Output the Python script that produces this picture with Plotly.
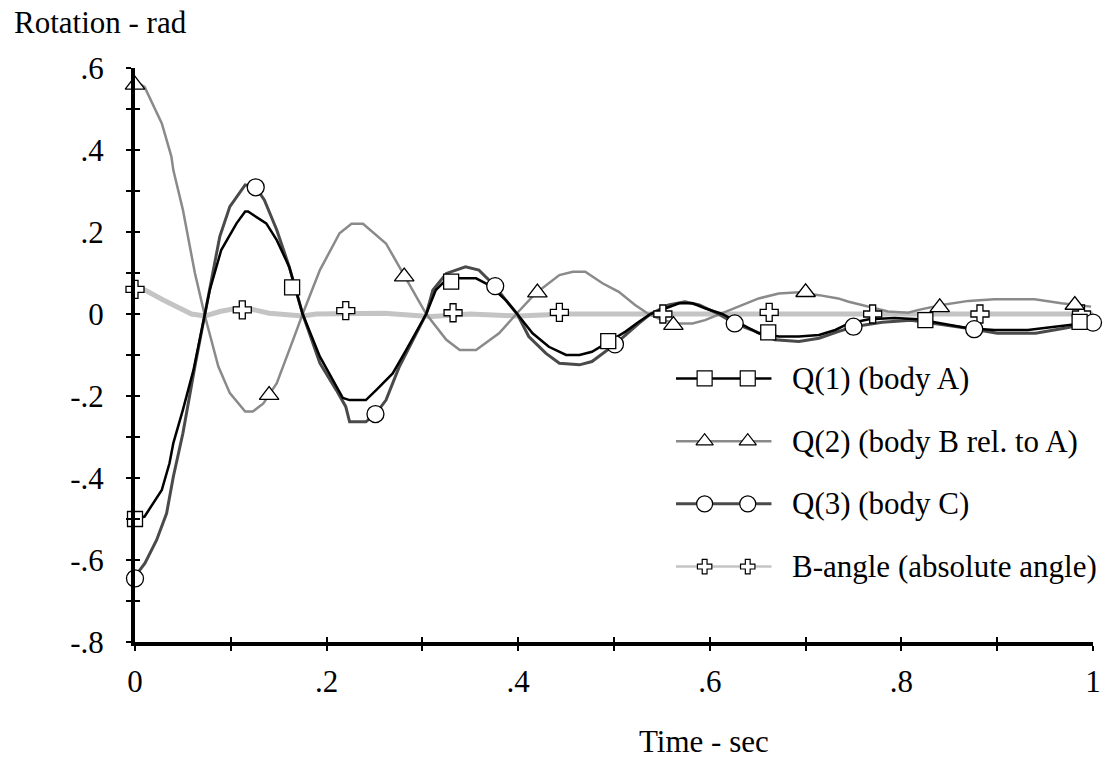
import plotly.graph_objects as go

# ---------------- data ----------------
T_Q1 = [0, 0.010, 0.028, 0.036, 0.040, 0.050, 0.061, 0.073, 0.078, 0.090, 0.106, 0.115, 0.118,
        0.137, 0.148, 0.161, 0.175, 0.193, 0.207, 0.217, 0.224, 0.238, 0.241, 0.252, 0.269,
        0.283, 0.293, 0.304, 0.314, 0.328, 0.339, 0.356, 0.370, 0.387, 0.399, 0.415, 0.432,
        0.450, 0.464, 0.477, 0.495, 0.512, 0.526, 0.538, 0.554, 0.568, 0.582, 0.595, 0.613,
        0.634, 0.651, 0.672, 0.693, 0.714, 0.731, 0.745, 0.766, 0.793, 0.818, 0.842, 0.870,
        0.897, 0.932, 0.960, 0.988, 1.0]
V_Q1 = [-0.50, -0.494, -0.429, -0.364, -0.315, -0.234, -0.137, 0.0, 0.058, 0.156, 0.221, 0.25, 0.25,
        0.221, 0.18, 0.115, 0.0, -0.104, -0.161, -0.205, -0.21, -0.21, -0.21, -0.185, -0.145,
        -0.088, -0.047, 0.0, 0.0585, 0.091, 0.087, 0.087, 0.07, 0.034, 0.0, -0.047, -0.08,
        -0.10, -0.10, -0.092, -0.067, -0.043, -0.019, 0.0, 0.014, 0.026, 0.026, 0.014, 0.0,
        -0.027, -0.047, -0.055, -0.055, -0.051, -0.039, -0.023, -0.013, -0.01, -0.013, -0.023, -0.035,
        -0.039, -0.039, -0.031, -0.023, -0.02]

T_Q2 = [0, 0.010, 0.028, 0.038, 0.040, 0.050, 0.0625, 0.073, 0.087, 0.099, 0.115, 0.123, 0.134,
        0.148, 0.165, 0.175, 0.193, 0.2135, 0.226, 0.238, 0.262, 0.280, 0.304, 0.325, 0.339,
        0.356, 0.380, 0.398, 0.418, 0.443, 0.457, 0.470, 0.488, 0.505, 0.522, 0.536, 0.550,
        0.568, 0.582, 0.595, 0.613, 0.630, 0.651, 0.672, 0.693, 0.714, 0.734, 0.745, 0.766,
        0.786, 0.807, 0.818, 0.842, 0.870, 0.897, 0.939, 0.967, 0.998]
V_Q2 = [0.568, 0.554, 0.465, 0.384, 0.351, 0.254, 0.10, -0.005, -0.128, -0.193, -0.238, -0.238, -0.218,
        -0.169, -0.063, 0.0, 0.107, 0.197, 0.22, 0.22, 0.172, 0.099, 0.0, -0.063, -0.088,
        -0.088, -0.047, 0.0, 0.05, 0.095, 0.103, 0.103, 0.075, 0.054, 0.022, 0.0, -0.015,
        -0.023, -0.023, -0.015, 0.002, 0.018, 0.038, 0.05, 0.053, 0.046, 0.038, 0.03, 0.018,
        0.006, 0.003, 0.01, 0.022, 0.032, 0.036, 0.036, 0.026, 0.018]

T_Q3 = [0, 0.0104, 0.0226, 0.033, 0.040, 0.050, 0.0625, 0.073, 0.0833, 0.0885, 0.099, 0.115, 0.126,
        0.135, 0.148, 0.161, 0.175, 0.193, 0.210, 0.220, 0.224, 0.241, 0.251, 0.262, 0.276,
        0.290, 0.304, 0.311, 0.325, 0.345, 0.359, 0.376, 0.387, 0.399, 0.411, 0.429, 0.443,
        0.464, 0.477, 0.501, 0.512, 0.526, 0.538, 0.557, 0.574, 0.589, 0.609, 0.626, 0.644,
        0.668, 0.693, 0.714, 0.734, 0.750, 0.780, 0.810, 0.840, 0.876, 0.900, 0.940, 0.970, 1.0]
V_Q3 = [-0.64, -0.608, -0.551, -0.486, -0.397, -0.291, -0.128, 0.0, 0.124, 0.189, 0.262, 0.315, 0.309,
        0.278, 0.205, 0.115, 0.0, -0.12, -0.185, -0.226, -0.263, -0.263, -0.244, -0.21, -0.128,
        -0.063, 0.0, 0.0585, 0.099, 0.115, 0.107, 0.068, 0.034, 0.0, -0.055, -0.096, -0.12,
        -0.124, -0.116, -0.074, -0.051, -0.023, 0.0, 0.022, 0.03, 0.022, 0.0, -0.023, -0.039,
        -0.063, -0.067, -0.059, -0.043, -0.031, -0.02, -0.015, -0.025, -0.037, -0.047, -0.047, -0.035, -0.021]

T_B = [0, 0.0104, 0.0295, 0.047, 0.059, 0.073, 0.0885, 0.106, 0.123, 0.14, 0.175, 0.189, 0.22,
       0.26, 0.30, 0.31, 0.35, 0.40, 0.45, 0.55, 0.60, 0.70, 0.80, 0.90, 1.0]
V_B = [0.065, 0.0585, 0.034, 0.014, 0.0, -0.005, 0.006, 0.014, 0.011, 0.002, -0.005, 0.0, 0.002,
       0.002, -0.005, -0.006, 0.0, -0.005, 0.0, -0.002, 0.0, 0.0, 0.0, 0.0, 0.0]

# marker points
TM_Q1 = [0, 0.164, 0.330, 0.494, 0.661, 0.825, 0.986]
VM_Q1 = [-0.50, 0.065, 0.079, -0.066, -0.045, -0.015, -0.019]
TM_Q2 = [0, 0.140, 0.281, 0.420, 0.562, 0.700, 0.840, 0.981]
VM_Q2 = [0.559, -0.198, 0.091, 0.052, -0.027, 0.053, 0.016, 0.022]
TM_Q3 = [0, 0.126, 0.251, 0.376, 0.501, 0.626, 0.750, 0.876, 1.0]
VM_Q3 = [-0.645, 0.309, -0.244, 0.068, -0.074, -0.023, -0.031, -0.037, -0.021]
TM_B = [0, 0.112, 0.220, 0.332, 0.443, 0.551, 0.662, 0.770, 0.882, 0.988]
VM_B = [0.06, 0.01, 0.008, 0.003, 0.004, 0.0, 0.004, 0.0, 0.0, 0.0]

SERIES_NAMES = ["Q(1) (body A)", "Q(2) (body B rel. to A)", "Q(3) (body C)", "B-angle (absolute angle)"]

X_TICKS = [0, 0.1, 0.2, 0.3, 0.4, 0.5, 0.6, 0.7, 0.8, 0.9, 1.0]
X_TICKTEXT = ["0", "", ".2", "", ".4", "", ".6", "", ".8", "", "1"]
Y_TICKS = [0.6, 0.5, 0.4, 0.3, 0.2, 0.1, 0, -0.1, -0.2, -0.3, -0.4, -0.5, -0.6, -0.7, -0.8]
Y_TICKTEXT = [".6", "", ".4", "", ".2", "", "0", "", "-.2", "", "-.4", "", "-.6", "", "-.8"]

X_TITLE = "Time - sec"
Y_TITLE = "Rotation - rad"

# ---------------- styling ----------------
FONT = "Liberation Serif, Times New Roman, serif"
FS = 31
COL = ["#000000", "#8a8a8a", "#4a4a4a", "#c4c4c4"]
LW = [2.5, 2.5, 3, 5]
LEG_LW = [2.5, 2.5, 3, 2.5]
SYM = ["square", "triangle-up", "circle", "cross"]
MSIZE = [15, 17, 17, 15]
LEG_MSIZE = [15, 15, 16, 12]

lines = [(T_B, V_B, 3), (T_Q2, V_Q2, 1), (T_Q3, V_Q3, 2), (T_Q1, V_Q1, 0)]
marks = [(TM_B, VM_B, 3), (TM_Q2, VM_Q2, 1), (TM_Q3, VM_Q3, 2), (TM_Q1, VM_Q1, 0)]

fig = go.Figure()
for t, v, i in lines:
    fig.add_trace(go.Scatter(x=t, y=v, mode="lines", line=dict(color=COL[i], width=LW[i]),
                             showlegend=False, hoverinfo="skip"))
for t, v, i in marks:
    fig.add_trace(go.Scatter(x=t, y=v, mode="markers", cliponaxis=False,
                             marker=dict(symbol=SYM[i], size=MSIZE[i], color="white",
                                         line=dict(color="black", width=1.3)),
                             showlegend=False, name=SERIES_NAMES[i]))

# custom legend drawn on its own small axes
LEG_X = [0, 1]
LEG_MX = [0.3, 0.75]
for k in range(4):
    yrow = 3.5 - k
    fig.add_trace(go.Scatter(x=LEG_X, y=[yrow, yrow], mode="lines", xaxis="x2", yaxis="y2",
                             line=dict(color=COL[k], width=LEG_LW[k]), showlegend=False,
                             hoverinfo="skip"))
    fig.add_trace(go.Scatter(x=LEG_MX, y=[yrow, yrow], mode="markers", xaxis="x2", yaxis="y2",
                             cliponaxis=False,
                             marker=dict(symbol=SYM[k], size=LEG_MSIZE[k], color="white",
                                         line=dict(color="black", width=1.2)),
                             showlegend=False, hoverinfo="skip"))
    fig.add_annotation(text=SERIES_NAMES[k], xref="paper", yref="y2", x=0.684, y=yrow,
                       xanchor="left", yanchor="middle", showarrow=False,
                       font=dict(family=FONT, size=FS, color="black"))

fig.add_annotation(text=Y_TITLE, xref="paper", yref="paper", x=-0.128, y=1.046,
                   xanchor="left", yanchor="bottom", showarrow=False,
                   font=dict(family=FONT, size=FS, color="black"))
fig.add_annotation(text=X_TITLE, xref="paper", yref="paper", x=0.594, y=-0.139,
                   xanchor="center", yanchor="top", showarrow=False,
                   font=dict(family=FONT, size=FS, color="black"))

axis_common = dict(showgrid=False, zeroline=False, showline=True, linewidth=4, linecolor="black",
                   ticks="outside", ticklen=5, tickwidth=2, tickcolor="black",
                   tickfont=dict(family=FONT, size=FS, color="black"))

fig.update_layout(
    width=1113, height=760,
    margin=dict(l=135, r=18, t=68, b=118),
    paper_bgcolor="white", plot_bgcolor="white",
    font=dict(family=FONT, size=FS, color="black"),
    xaxis=dict(range=[0, 1], tickvals=X_TICKS, ticktext=X_TICKTEXT, ticklabelstandoff=4,
               **axis_common),
    yaxis=dict(range=[-0.8, 0.6], tickvals=Y_TICKS, ticktext=Y_TICKTEXT, ticklabelstandoff=16,
               **axis_common),
    xaxis3=dict(overlaying="x", range=[0, 1], tickvals=X_TICKS, showticklabels=False, showline=False,
                showgrid=False, zeroline=False, ticks="inside", ticklen=5, tickwidth=2, tickcolor="black"),
    yaxis3=dict(overlaying="y", range=[-0.8, 0.6], tickvals=Y_TICKS, showticklabels=False, showline=False,
                showgrid=False, zeroline=False, ticks="inside", ticklen=5, tickwidth=2, tickcolor="black"),
    xaxis2=dict(domain=[0.5646, 0.6646], range=[0, 1], visible=False, anchor="y2"),
    yaxis2=dict(domain=[0.0767, 0.5139], range=[0, 4], visible=False, anchor="x2"),
    showlegend=False,
)
# dummy trace so the inside-tick axes are drawn
fig.add_trace(go.Scatter(x=[None], y=[None], xaxis="x3", yaxis="y3", showlegend=False))

fig.write_html("out.html", config={"displayModeBar": False},
               post_script="document.body.style.margin='0';document.body.style.overflow='hidden';")
